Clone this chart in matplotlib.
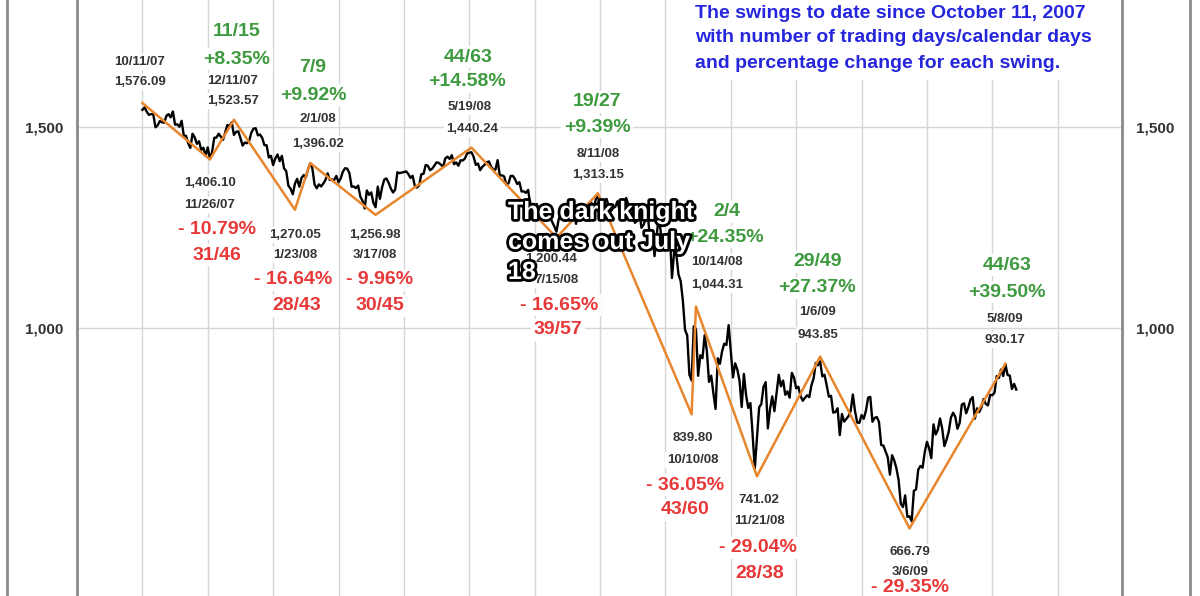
import numpy as np
import matplotlib
matplotlib.use('Agg')
import matplotlib.pyplot as plt
import matplotlib.patheffects as pe
from matplotlib.lines import Line2D
from matplotlib.ticker import NullLocator, FixedLocator

plt.rcParams['font.family'] = ['Liberation Sans', 'DejaVu Sans']

# S&P 500 daily closes, 10/11/07 .. 5/15/09 (one trading day per step)
oct07 = [1554.41, 1561.80, 1548.71, 1538.53, 1541.24, 1540.08, 1500.63, 1506.33, 1519.59, 1515.88,
         1514.40, 1535.28, 1540.98, 1531.02, 1549.38]
nov07 = [1508.44, 1509.65, 1502.17, 1520.27, 1475.62, 1474.77, 1453.70, 1439.18, 1481.05, 1470.58,
         1451.15, 1458.74, 1433.27, 1439.70, 1416.77, 1440.70, 1407.22, 1428.23, 1469.02, 1469.72, 1481.14]
dec07 = [1472.42, 1462.79, 1485.01, 1507.34, 1504.66, 1515.96, 1477.65, 1486.59, 1488.41, 1467.95,
         1445.90, 1454.98, 1453.00, 1460.12, 1484.46, 1496.45, 1497.66, 1476.27, 1478.49, 1468.36]
jan08 = [1447.16, 1447.16, 1411.63, 1416.18, 1390.19, 1409.13, 1420.33, 1401.02, 1416.25, 1380.95,
         1373.20, 1333.25, 1325.19, 1310.50, 1338.60, 1352.07, 1330.61, 1353.96, 1362.30, 1355.81, 1378.55]
feb08 = [1395.42, 1380.82, 1336.64, 1326.45, 1336.91, 1331.29, 1339.13, 1348.86, 1367.21, 1348.86,
         1349.99, 1348.78, 1360.03, 1342.53, 1353.11, 1371.80, 1381.29, 1380.02, 1367.68, 1330.63]
mar08 = [1331.34, 1326.75, 1333.70, 1304.34, 1293.37, 1273.37, 1320.65, 1308.77, 1315.48, 1288.14,
         1276.60, 1330.74, 1298.42, 1329.51, 1349.88, 1352.99, 1341.13, 1325.76, 1315.22, 1322.70]
apr08 = [1370.18, 1367.53, 1369.31, 1370.40, 1372.54, 1365.54, 1354.49, 1360.55, 1332.83, 1328.32,
         1334.43, 1364.71, 1365.56, 1390.33, 1388.17, 1375.94, 1379.93, 1388.82, 1397.84, 1396.37,
         1390.94, 1385.59]
may08 = [1409.34, 1413.90, 1407.49, 1418.26, 1392.57, 1397.68, 1388.28, 1403.58, 1403.04, 1408.66,
         1423.57, 1425.35, 1426.63, 1413.40, 1390.71, 1394.35, 1375.93, 1385.35, 1390.84, 1398.26, 1400.38]
jun08 = [1385.67, 1377.65, 1377.20, 1404.05, 1360.68, 1361.76, 1358.44, 1335.49, 1339.87, 1360.03,
         1360.14, 1350.93, 1337.81, 1342.83, 1317.93, 1318.00, 1314.29, 1321.97, 1283.15, 1278.38, 1280.00]
jul08 = [1284.91, 1261.52, 1262.90, 1252.31, 1273.70, 1244.69, 1253.39, 1239.49, 1228.30, 1214.91,
         1245.36, 1260.32, 1260.68, 1260.00, 1277.00, 1282.19, 1252.54, 1257.76, 1234.37, 1263.20,
         1284.26, 1267.38]
aug08 = [1260.31, 1249.01, 1284.88, 1289.19, 1266.07, 1296.32, 1305.32, 1289.59, 1285.83, 1292.93,
         1298.20, 1278.60, 1266.69, 1274.54, 1277.72, 1292.20, 1266.84, 1271.51, 1281.66, 1300.68, 1282.83]
sep08 = [1277.58, 1274.98, 1236.83, 1242.31, 1267.79, 1224.51, 1232.04, 1249.05, 1251.70, 1192.70,
         1213.60, 1156.39, 1206.51, 1255.08, 1207.09, 1188.22, 1185.87, 1209.18, 1213.27, 1106.42, 1166.36]
oct08 = [1161.06, 1114.28, 1099.23, 1056.89, 996.23, 984.94, 909.92, 899.22, 1003.35, 998.01,
         907.84, 946.43, 940.55, 985.40, 955.05, 896.78, 908.11, 876.77, 848.92, 940.51,
         930.09, 954.09, 968.75]
nov08 = [966.30, 1005.75, 952.77, 904.88, 930.99, 919.21, 898.95, 852.30, 911.29, 873.29,
         850.75, 859.12, 806.58, 752.44, 800.03, 851.81, 857.39, 887.68, 896.24]
dec08 = [816.21, 848.81, 870.74, 845.22, 876.07, 909.70, 888.67, 899.24, 873.59, 879.73,
         868.57, 913.18, 904.42, 885.28, 887.88, 871.63, 863.16, 868.15, 872.80, 869.42, 890.64, 903.25]
jan09 = [931.80, 927.45, 934.70, 906.65, 909.73, 890.35, 870.26, 871.79, 842.62, 843.74,
         850.12, 805.22, 840.24, 827.50, 831.95, 836.57, 845.71, 874.09, 845.14, 825.88]
feb09 = [825.44, 838.51, 832.23, 845.85, 868.60, 869.89, 827.16, 833.74, 835.19, 826.84,
         789.17, 788.42, 778.94, 770.05, 743.33, 773.14, 764.90, 752.83, 735.09]
mar09 = [700.82, 696.33, 712.87, 682.55, 683.38, 676.53, 719.60, 721.36, 750.74, 756.55,
         753.89, 778.12, 794.35, 784.04, 768.54, 822.92, 806.12, 813.88, 832.86, 815.94, 787.53, 797.87]
apr09 = [811.08, 834.38, 842.50, 835.48, 815.55, 825.16, 856.56, 858.73, 841.50, 852.06,
         865.30, 869.60, 832.39, 850.08, 843.55, 851.92, 866.23, 857.51, 855.16, 873.64, 872.81]
may09 = [877.52, 907.24, 903.80, 919.53, 907.39, 929.23, 909.24, 908.35, 883.92, 893.07, 882.88]

closes = np.array(oct07 + nov07 + dec07 + jan08 + feb08 + mar08 + apr08 + may08 + jun08 + jul08
                  + aug08 + sep08 + oct08 + nov08 + dec08 + jan09 + feb09 + mar09 + apr09 + may09)
days = np.arange(len(closes))

# swing points (trading-day index, value)
swing_day = [0, 31, 42, 70, 77, 107, 151, 190, 209, 252, 254, 282, 311, 352, 396]
swing_val = [1576.09, 1406.10, 1523.57, 1270.05, 1396.02, 1256.98, 1440.24, 1200.44,
             1313.15, 839.80, 1044.31, 741.02, 943.85, 666.79, 930.17]
swing_date = ['10/11/07', '11/26/07', '12/11/07', '1/23/08', '2/1/08', '3/17/08', '5/19/08',
              '7/15/08', '8/11/08', '10/10/08', '10/14/08', '11/21/08', '1/6/09', '3/6/09', '5/8/09']
swing_pct = ['- 10.79%', '+8.35%', '- 16.64%', '+9.92%', '- 9.96%', '+14.58%', '- 16.65%',
             '+9.39%', '- 36.05%', '+24.35%', '- 29.04%', '+27.37%', '- 29.35%', '+39.50%']
swing_len = ['31/46', '11/15', '28/43', '7/9', '30/45', '44/63', '39/57',
             '19/27', '43/60', '2/4', '28/38', '29/49', '41/59', '44/63']

W, H = 1200, 596
fig = plt.figure(figsize=(W / 100, H / 100), dpi=100)
fig.patch.set_facecolor('white')
ax = fig.add_axes([77 / W, 0, 1045 / W, 1])
ax.set_yscale('log')
ax.set_xlim(-30, 449.5)
ax.set_ylim(581.6, 1941)

ax.plot(days, closes, color='black', lw=1.7, zorder=3)
ax.plot(swing_day, swing_val, color='#E8862E', lw=1.8, zorder=4)

ax.xaxis.set_major_locator(FixedLocator(np.arange(0, 421, 30)))
ax.yaxis.set_major_locator(FixedLocator([1000, 1500]))
ax.yaxis.set_minor_locator(NullLocator())
ax.xaxis.set_minor_locator(NullLocator())
ax.set_yticklabels(['1,000', '1,500'], fontweight='bold', fontsize=11, color='#333333')
ax.tick_params(axis='x', length=0, labelbottom=False)
ax.tick_params(axis='y', length=0, left=False, right=False, labelleft=True, labelright=True, pad=10)
ax.grid(True, color='#d6d6d6', lw=1)
ax.set_axisbelow(True)
for s in ['top', 'bottom']:
    ax.spines[s].set_visible(False)
for s in ['left', 'right']:
    ax.spines[s].set_color('#8a8a8a')
    ax.spines[s].set_linewidth(2)

# outer frame
for px in [7, 1190]:
    fig.add_artist(Line2D([px / W, px / W], [0, 1], color='#8a8a8a', lw=2))

box = dict(boxstyle='square,pad=0.15', facecolor='white', edgecolor='none')


def put(px, py, s, **kw):
    if py > H:
        return
    fig.text(px / W, 1 - py / H, s, ha='center', va='center', bbox=box, **kw)


small = dict(fontsize=9.5, fontweight='bold', color='#333333')
big_up = dict(fontsize=14, fontweight='bold', color='#3E9A3E')
big_dn = dict(fontsize=14, fontweight='bold', color='#E83838')

# date / value labels at each swing point
date_pos = [(140, 62), (210, 205), (233, 81), (295, 255), (318, 119), (375, 255), (470, 107),
            (556, 280), (598, 154), (693, 460), (717, 262), (759, 521), (818, 312), (910, 572),
            (1005, 319)]
val_pos = [(140, 82), (210, 183), (233, 101), (295, 235), (318, 144), (375, 235), (472, 129),
           (551, 259), (598, 175), (693, 438), (717, 285), (759, 500), (818, 335), (910, 552),
           (1005, 340)]
for i in range(len(swing_val)):
    put(*date_pos[i], swing_date[i], **small)
    put(*val_pos[i], f'{swing_val[i]:,.2f}', **small)

# swing change labels (the last down-swing's day count sits below the visible area)
pct_pos = [(217, 229), (237, 59), (293, 280), (313, 95), (380, 280), (467, 82), (559, 305),
           (597, 127), (685, 485), (725, 237), (758, 548), (817, 288), (910, 587), (1007, 292)]
len_pos = [(217, 255), (237, 32), (297, 306), (313, 68), (380, 306), (468, 57), (558, 330),
           (597, 102), (685, 510), (727, 212), (760, 573), (818, 262), (910, 627), (1007, 265)]
for i in range(len(swing_pct)):
    st = big_up if swing_pct[i].startswith('+') else big_dn
    put(*pct_pos[i], swing_pct[i], **st)
    put(*len_pos[i], swing_len[i], **st)

# note text
note = ['The swings to date since October 11, 2007',
        'with number of trading days/calendar days',
        'and percentage change for each swing.']
for line, py in zip(note, [13, 38, 64]):
    fig.text(695 / W, 1 - py / H, line, ha='left', va='center', fontsize=14,
             fontweight='bold', color='#2626DC',
             bbox=dict(boxstyle='square,pad=0.4', facecolor='white', edgecolor='none'))

caption = ['The dark knight', 'comes out July', '18']
for line, py in zip(caption, [212, 242, 272]):
    t = fig.text(508 / W, 1 - py / H, line, ha='left', va='center', fontsize=18,
                 fontweight='bold', color='white', zorder=10)
    t.set_path_effects([pe.withStroke(linewidth=4, foreground='black')])

fig.savefig('out.png', dpi=100)
